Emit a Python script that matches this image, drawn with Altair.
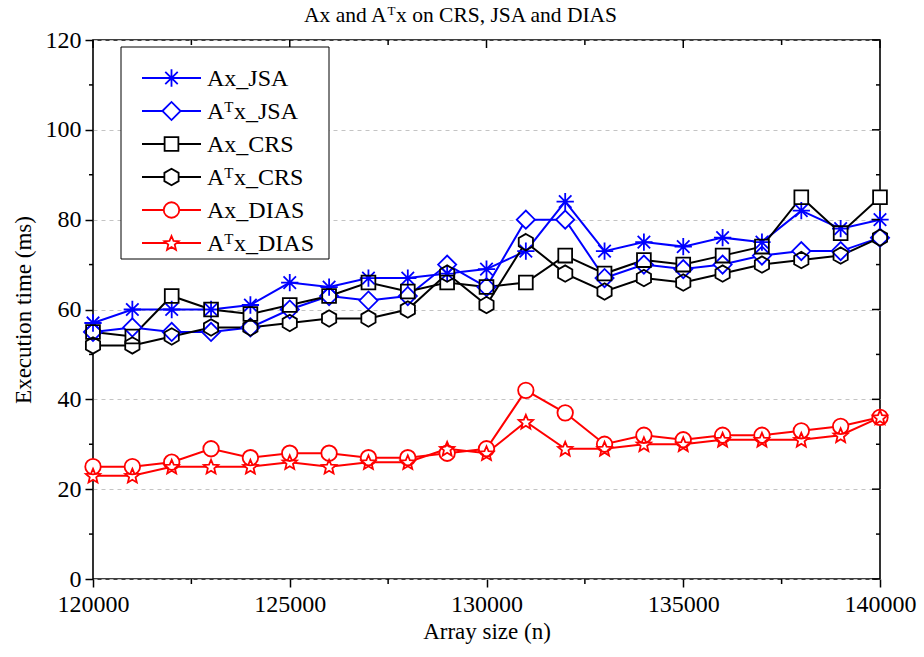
import math
import altair as alt
import pandas as pd

# ---------------- data ----------------
array_size = list(range(120000, 140001, 1000))
ax_jsa = [57, 60, 60, 60, 61, 66, 65, 67, 67, 68, 69, 73, 84, 73, 75, 74, 76, 75, 82, 78, 80]
atx_jsa = [55, 56, 55, 55, 56, 60, 63, 62, 63, 70, 65, 80, 80, 67, 70, 69, 70, 72, 73, 73, 76]
ax_crs = [55, 54, 63, 60, 59, 61, 63, 66, 64, 66, 65, 66, 72, 68, 71, 70, 72, 74, 85, 77, 85]
atx_crs = [52, 52, 54, 56, 56, 57, 58, 58, 60, 68, 61, 75, 68, 64, 67, 66, 68, 70, 71, 72, 76]
ax_dias = [25, 25, 26, 29, 27, 28, 28, 27, 27, 28, 29, 42, 37, 30, 32, 31, 32, 32, 33, 34, 36]
atx_dias = [23, 23, 25, 25, 25, 26, 25, 26, 26, 29, 28, 35, 29, 29, 30, 30, 31, 31, 31, 32, 36]

series_ids = ["Ax_JSA", "ATx_JSA", "Ax_CRS", "ATx_CRS", "Ax_DIAS", "ATx_DIAS"]
label_head = ["Ax_JSA", "A", "Ax_CRS", "A", "Ax_DIAS", "A"]
label_sup = ["", "T", "", "T", "", "T"]
label_tail = ["", "x_JSA", "", "x_CRS", "", "x_DIAS"]
series_values = [ax_jsa, atx_jsa, ax_crs, atx_crs, ax_dias, atx_dias]

y_major = [0, 20, 40, 60, 80, 100, 120]
y_minor = [10, 30, 50, 70, 90, 110]
x_major = [120000, 125000, 130000, 135000, 140000]
x_minor = [122500, 127500, 132500, 137500]

title_head = "Ax and A"
title_sup = "T"
title_tail = "x on CRS, JSA and DIAS"
x_title = "Array size (n)"
y_title = "Execution time (ms)"

# ---------------- style ----------------
FONT = "Liberation Serif"
ASTERISK = "M0,-1L0,1M-1,0L1,0M-0.72,-0.72L0.72,0.72M-0.72,0.72L0.72,-0.72"
HEXAGON = "M0,-1L0.866,-0.5L0.866,0.5L0,1L-0.866,0.5L-0.866,-0.5Z"
_pts = []
for k in range(10):
    r = 1.0 if k % 2 == 0 else 0.45
    a = math.radians(-90 + 36 * k)
    _pts.append(f"{r * math.cos(a):.3f},{r * math.sin(a) + 0.08:.3f}")
STAR = "M" + "L".join(_pts) + "Z"
colors = ["#0000ff", "#0000ff", "#000000", "#000000", "#ff0000", "#ff0000"]
shapes = [ASTERISK, "diamond", "square", HEXAGON, "circle", STAR]
sym_sizes = [300, 330, 190, 270, 240, 230]

W, H = 787, 539

rows = []
for sid, vals in zip(series_ids, series_values):
    for n, v in zip(array_size, vals):
        rows.append({"n": n, "t": v, "series": sid})
df = pd.DataFrame(rows)
one = pd.DataFrame({"k": [0]})

xs = alt.Scale(domain=[120000, 140000], nice=False, zero=False)
ys = alt.Scale(domain=[0, 120], nice=False, zero=True)

y_axis = alt.Axis(
    orient="left", values=y_major, format="d", tickSize=8,
    grid=True, gridDash=[4, 4], gridColor="#c4c4c4", gridWidth=1,
    domain=False, labelOverlap=False, labelPadding=4,
    title=y_title, titlePadding=10,
)
x_axis = alt.Axis(
    orient="bottom", values=x_major, format="d", tickSize=8,
    grid=False, domain=False, labelOverlap=False, labelFlush=False, labelPadding=5,
    title=x_title, titlePadding=4,
)


def X(field):
    return alt.X(field, scale=xs, axis=x_axis)


def Y(field):
    return alt.Y(field, scale=ys, axis=y_axis)


base = alt.Chart(df)
line_layers, fill_layers, stroke_layers = [], [], []
for i, sid in enumerate(series_ids):
    sub = base.transform_filter(alt.datum.series == sid)
    line_layers.append(sub.mark_line(color=colors[i], strokeWidth=2).encode(x=X("n:Q"), y=Y("t:Q")))
    fill_layers.append(sub.mark_point(shape=shapes[i], size=sym_sizes[i], filled=True, color="white",
                                      opacity=1).encode(x=X("n:Q"), y=Y("t:Q")))
    stroke_layers.append(sub.mark_point(shape=shapes[i], size=sym_sizes[i], filled=False, color=colors[i],
                                        strokeWidth=1.8, opacity=1).encode(x=X("n:Q"), y=Y("t:Q")))

# minor ticks on left/bottom (outward) and mirrored ticks on top/right (inward)
tick_layers = []
ymin_df = pd.DataFrame({"t": y_minor})
ymaj_df = pd.DataFrame({"t": y_major})
xmin_df = pd.DataFrame({"n": x_minor})
xmaj_df = pd.DataFrame({"n": x_major})
for dfx, ln, side in [(ymin_df, 4, "left"), (ymin_df, 4, "right"), (ymaj_df, 8, "right")]:
    xa, xb = (-ln, 0) if side == "left" else (W - ln, W)
    tick_layers.append(alt.Chart(dfx).mark_rule(color="black", strokeWidth=1.5).encode(
        y=Y("t:Q"), x=alt.value(xa), x2=alt.value(xb)))
for dfx, ln, side in [(xmin_df, 5, "bottom"), (xmin_df, 5, "top"), (xmaj_df, 8, "top")]:
    ya, yb = (H, H + ln) if side == "bottom" else (0, ln)
    tick_layers.append(alt.Chart(dfx).mark_rule(color="black", strokeWidth=1.5).encode(
        x=X("n:Q"), y=alt.value(ya), y2=alt.value(yb)))


def txt(s, x, y, size):
    return alt.Chart(one).mark_text(text=s, font=FONT, fontSize=size, align="left",
                                    baseline="alphabetic", color="black").encode(
        x=alt.value(x), y=alt.value(y))


# ---------------- legend (box in the upper-left of the plot) ----------------
LEG_F = 24
SUP_F = 15
legend_layers = [
    alt.Chart(one).mark_rect(fill="white", stroke="black", strokeWidth=1).encode(
        x=alt.value(28), x2=alt.value(236), y=alt.value(7), y2=alt.value(219))
]
for i, sid in enumerate(series_ids):
    ly = 38 + 33 * i
    legend_layers.append(alt.Chart(one).mark_rule(color=colors[i], strokeWidth=2).encode(
        x=alt.value(49), x2=alt.value(108), y=alt.value(ly)))
    legend_layers.append(alt.Chart(one).mark_point(shape=shapes[i], size=sym_sizes[i], filled=True,
                                                   color="white", opacity=1).encode(
        x=alt.value(78.5), y=alt.value(ly)))
    legend_layers.append(alt.Chart(one).mark_point(shape=shapes[i], size=sym_sizes[i], filled=False,
                                                   color=colors[i], strokeWidth=1.8, opacity=1).encode(
        x=alt.value(78.5), y=alt.value(ly)))
    tx = 114
    legend_layers.append(txt(label_head[i], tx, ly + 8, LEG_F))
    if label_sup[i]:
        sx = tx + 0.722 * LEG_F
        legend_layers.append(txt(label_sup[i], sx, ly + 0.5, SUP_F))
        legend_layers.append(txt(label_tail[i], sx + 0.611 * SUP_F + 0.5, ly + 8, LEG_F))

# ---------------- chart title with superscript ----------------
T_F = 21.5
T_SUP = 13
t_x = 211
t_y = -18
title_layers = [
    txt(title_head, t_x, t_y, T_F),
    txt(title_sup, t_x + 3.888 * T_F, t_y - 7, T_SUP),
    txt(title_tail, t_x + 3.888 * T_F + 0.611 * T_SUP + 0.5, t_y, T_F),
]

chart = alt.layer(
    *line_layers, *fill_layers, *stroke_layers, *tick_layers, *legend_layers, *title_layers
).properties(
    width=W, height=H,
    padding={"left": 93, "top": 40, "right": 44, "bottom": 78},
    autosize=alt.AutoSizeParams(type="none"),
    background="white",
).configure_view(
    stroke="black", strokeWidth=1.6
).configure_axis(
    labelFont=FONT, titleFont=FONT, labelFontSize=24, titleFontSize=23,
    labelColor="black", titleColor="black", titleFontWeight="normal",
    tickColor="black", tickWidth=1.5, domainColor="black",
)

chart.save("out.html", embed_options={"renderer": "svg", "actions": False})
